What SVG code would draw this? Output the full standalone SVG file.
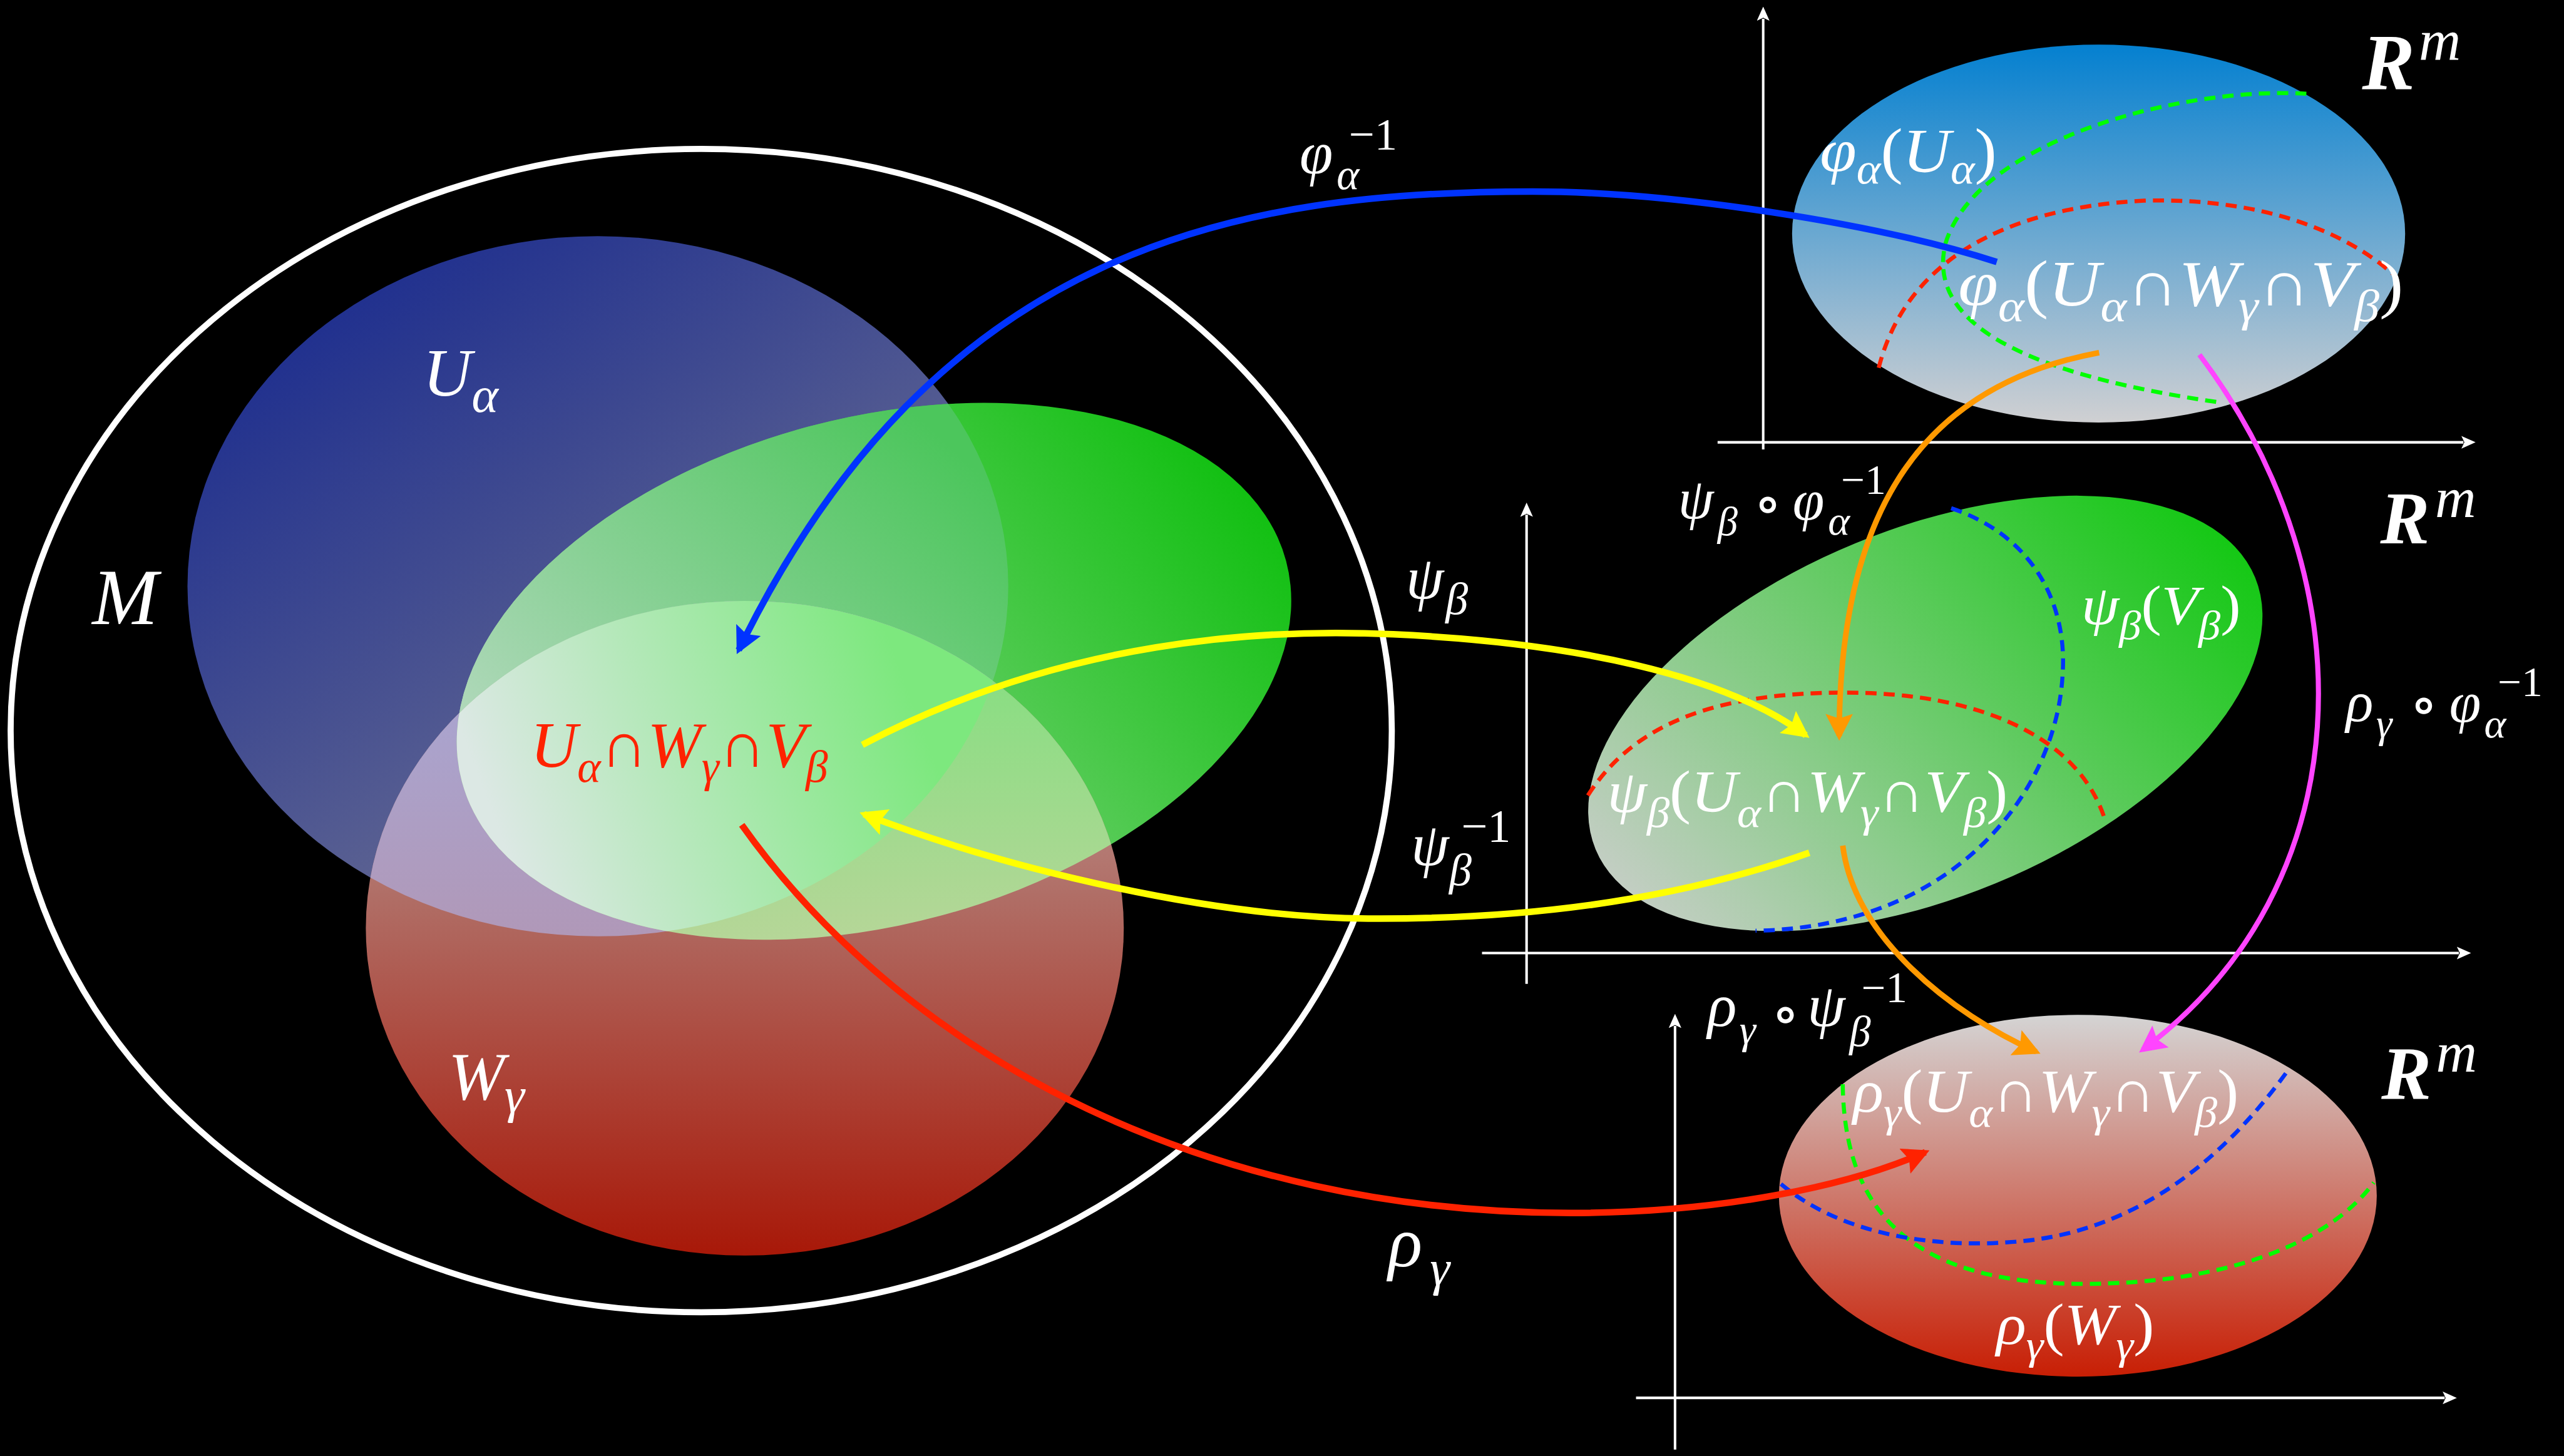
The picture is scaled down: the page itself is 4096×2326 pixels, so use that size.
<svg xmlns="http://www.w3.org/2000/svg" width="4096" height="2326" viewBox="0 0 4096 2326">
<style>
.t{font-family:"Liberation Serif","Times New Roman","DejaVu Serif",serif;font-style:italic;fill:#ffffff}
.up{font-style:normal}
.bd{font-weight:bold}
.ring{font-family:"DejaVu Sans","Noto Sans",sans-serif;font-style:normal;font-weight:bold;fill:#ffffff;text-anchor:middle}
.ax{stroke:#ffffff;stroke-width:5;fill:none;marker-end:url(#axh)}
.dash{fill:none;stroke-width:8;stroke-dasharray:22 14}
.arr{fill:none;stroke-linecap:butt}
</style>
<defs>
<marker id="axh" viewBox="0 0 28 25" markerWidth="28" markerHeight="25" refX="4" refY="12.5" orient="auto" markerUnits="userSpaceOnUse"><path d="M0,0 L28,12.5 L0,25 L6,12.5 z" fill="#ffffff"/></marker>
<marker id="hBlue" viewBox="0 0 53 56" markerWidth="53" markerHeight="56" refX="44" refY="28" orient="auto" markerUnits="userSpaceOnUse"><path d="M0,1 L53,28 L0,55 L9,28 z" fill="#0033ff"/></marker>
<marker id="hYel" viewBox="0 0 53 56" markerWidth="53" markerHeight="56" refX="44" refY="28" orient="auto" markerUnits="userSpaceOnUse"><path d="M0,1 L53,28 L0,55 L9,28 z" fill="#ffff00"/></marker>
<marker id="hRed" viewBox="0 0 53 56" markerWidth="53" markerHeight="56" refX="44" refY="28" orient="auto" markerUnits="userSpaceOnUse"><path d="M0,1 L53,28 L0,55 L9,28 z" fill="#ff2200"/></marker>
<marker id="hOr" viewBox="0 0 53 56" markerWidth="53" markerHeight="56" refX="44" refY="28" orient="auto" markerUnits="userSpaceOnUse"><path d="M0,1 L53,28 L0,55 L9,28 z" fill="#ff9900"/></marker>
<marker id="hMag" viewBox="0 0 53 56" markerWidth="53" markerHeight="56" refX="44" refY="28" orient="auto" markerUnits="userSpaceOnUse"><path d="M0,1 L53,28 L0,55 L9,28 z" fill="#ff44ff"/></marker>
<linearGradient id="gB" gradientUnits="userSpaceOnUse" x1="600" y1="500" x2="1500" y2="1780"><stop offset="0" stop-color="#192a8e"/><stop offset="1" stop-color="#767893"/></linearGradient>
<linearGradient id="gG" gradientUnits="userSpaceOnUse" x1="1000" y1="1700" x2="2450" y2="1000"><stop offset="0" stop-color="#b4dab4"/><stop offset="1" stop-color="#12c012"/></linearGradient>
<linearGradient id="gBG" gradientUnits="userSpaceOnUse" x1="950" y1="1400" x2="1900" y2="800"><stop offset="0" stop-color="#b7d9c1"/><stop offset="1" stop-color="#4cc65c"/></linearGradient>
<linearGradient id="gR" gradientUnits="userSpaceOnUse" x1="0" y1="1186" x2="0" y2="2478"><stop offset="0" stop-color="#c8b4b4"/><stop offset="0.45" stop-color="#b06e66"/><stop offset="1" stop-color="#a81808"/></linearGradient>
<linearGradient id="gBR" gradientUnits="userSpaceOnUse" x1="0" y1="1250" x2="0" y2="1850"><stop offset="0" stop-color="#a8a8d6"/><stop offset="1" stop-color="#b098b8"/></linearGradient>
<linearGradient id="gGR" gradientUnits="userSpaceOnUse" x1="0" y1="1190" x2="0" y2="1860"><stop offset="0" stop-color="#7ce07c"/><stop offset="1" stop-color="#b6d698"/></linearGradient>
<linearGradient id="gBGR" gradientUnits="userSpaceOnUse" x1="950" y1="1550" x2="1750" y2="1250"><stop offset="0" stop-color="#dce8e4"/><stop offset="1" stop-color="#7de87e"/></linearGradient>
<linearGradient id="gT" gradientUnits="userSpaceOnUse" x1="0" y1="88" x2="0" y2="835"><stop offset="0" stop-color="#0480d0"/><stop offset="1" stop-color="#d0d0d2"/></linearGradient>
<linearGradient id="gM" gradientUnits="userSpaceOnUse" x1="3149" y1="1676" x2="4451" y2="1140"><stop offset="0" stop-color="#c8cec8"/><stop offset="1" stop-color="#10c810"/></linearGradient>
<linearGradient id="gL" gradientUnits="userSpaceOnUse" x1="0" y1="2003" x2="0" y2="2718"><stop offset="0" stop-color="#d4d4d4"/><stop offset="1" stop-color="#c81e04"/></linearGradient>
<clipPath id="cB"><ellipse cx="1180" cy="1157" rx="810" ry="691"/></clipPath>
<clipPath id="cG"><ellipse cx="1725" cy="1325" rx="842" ry="500" transform="rotate(-15 1725 1325)"/></clipPath>
</defs>
<rect x="0" y="0" width="4096" height="2326" fill="#000000"/>
<g transform="scale(0.8094)">
<g id="manifold">
  <g id="U-alpha"><ellipse cx="1180" cy="1157" rx="810" ry="691" fill="url(#gB)"/></g>
  <g id="V-beta">
    <ellipse cx="1725" cy="1325" rx="842" ry="500" transform="rotate(-15 1725 1325)" fill="url(#gG)"/>
    <g clip-path="url(#cB)"><ellipse cx="1725" cy="1325" rx="842" ry="500" transform="rotate(-15 1725 1325)" fill="url(#gBG)"/></g>
  </g>
  <g id="W-gamma">
    <ellipse cx="1470" cy="1832" rx="748" ry="646" fill="url(#gR)"/>
    <g clip-path="url(#cB)"><ellipse cx="1470" cy="1832" rx="748" ry="646" fill="url(#gBR)"/></g>
    <g clip-path="url(#cG)"><ellipse cx="1470" cy="1832" rx="748" ry="646" fill="url(#gGR)"/></g>
    <g clip-path="url(#cB)"><g clip-path="url(#cG)"><ellipse cx="1470" cy="1832" rx="748" ry="646" fill="url(#gBGR)"/></g></g>
  </g>
  <g id="M"><ellipse cx="1384" cy="1442" rx="1363" ry="1148" fill="none" stroke="#ffffff" stroke-width="12"/></g>
</g>
<g id="chart-top">
  <path class="ax" d="M3480,887 L3480,37"/>
  <path class="ax" d="M3390,873 L4862,873"/>
  <ellipse cx="4142" cy="461" rx="605" ry="373" fill="url(#gT)"/>
  <path class="dash" stroke="#00ff00" d="M4552,185 C4300,170 3900,280 3840,480 C3800,640 4000,740 4386,795"/>
  <path class="dash" stroke="#ff2200" d="M3708,726 C3760,520 3950,410 4232,396 C4450,390 4620,450 4722,540"/>
</g>
<g id="chart-middle">
  <path class="ax" d="M3013,1942 L3013,1016"/>
  <path class="ax" d="M2925,1881 L4853,1881"/>
  <ellipse cx="3800" cy="1408" rx="704" ry="363" transform="rotate(-22.4 3800 1408)" fill="url(#gM)"/>
  <path class="dash" stroke="#0033ff" d="M3851,1003 C4020,1060 4080,1200 4071,1330 C4060,1560 3860,1830 3465,1837"/>
  <path class="dash" stroke="#ff2200" d="M3134,1570 C3230,1420 3400,1367 3644,1367 C3900,1367 4100,1450 4154,1616"/>
</g>
<g id="chart-bottom">
  <path class="ax" d="M3306,2861 L3306,2025"/>
  <path class="ax" d="M3229,2759 L4825,2759"/>
  <ellipse cx="4101" cy="2360" rx="590" ry="357" fill="url(#gL)"/>
  <path class="dash" stroke="#00ff00" d="M3637,2140 C3640,2380 3760,2534 4112,2534 C4400,2534 4600,2450 4685,2334"/>
  <path class="dash" stroke="#0033ff" d="M3515,2337 C3650,2450 3850,2460 3960,2452 C4200,2440 4380,2300 4514,2115"/>
</g>
<g id="connectors">
  <path class="arr" stroke="#0033ff" stroke-width="13" marker-end="url(#hBlue)" d="M3941,517 C3700,440 3300,378 3025,378 C2450,378 1850,480 1458,1283"/>
  <path class="arr" stroke="#ffff00" stroke-width="13" marker-end="url(#hYel)" d="M1702,1470 C2100,1260 2500,1240 2750,1252 C3100,1268 3400,1330 3564,1451"/>
  <path class="arr" stroke="#ffff00" stroke-width="13" marker-end="url(#hYel)" d="M3571,1683 C3300,1780 3000,1815 2700,1813 C2400,1811 2000,1720 1705,1607"/>
  <path class="arr" stroke="#ff2200" stroke-width="13" marker-end="url(#hRed)" d="M1464,1628 C1800,2100 2400,2394 3100,2394 C3400,2394 3650,2340 3800,2274"/>
  <path class="arr" stroke="#ff9900" stroke-width="11" marker-end="url(#hOr)" d="M4143,696 C3800,760 3630,1000 3630,1453"/>
  <path class="arr" stroke="#ff9900" stroke-width="11" marker-end="url(#hOr)" d="M3637,1669 C3660,1850 3850,2000 4019,2076"/>
  <path class="arr" stroke="#ff44ff" stroke-width="10" marker-end="url(#hMag)" d="M4341,700 C4680,1150 4660,1750 4229,2072"/>
</g>
<g id="labels">
  <text class="t" x="182" y="1232" font-size="156">M</text>
  <text class="t" x="835" y="781" font-size="133">U<tspan font-size="100" dy="32">α</tspan></text>
  <text class="t" x="885" y="2170" font-size="133">W<tspan font-size="100" dy="26">γ</tspan></text>
  <text class="t" x="1047" y="1513" font-size="128" style="fill:#ff2200">U<tspan font-size="88" dy="30">α</tspan><tspan class="up" dy="-30">∩</tspan>W<tspan font-size="88" dy="30">γ</tspan><tspan class="up" dy="-30">∩</tspan>V<tspan font-size="88" dy="30">β</tspan></text>
  <text class="t" font-size="119"><tspan x="2565" y="342">φ</tspan><tspan x="2638" y="373" font-size="85">α</tspan><tspan class="up" x="2662" y="295" font-size="90">−1</tspan></text>
  <text class="t" font-size="120"><tspan x="2775" y="1181">ψ</tspan><tspan x="2853" y="1212" font-size="89">β</tspan></text>
  <text class="t" font-size="120"><tspan x="2785" y="1707">ψ</tspan><tspan x="2860" y="1747" font-size="89">β</tspan><tspan class="up" x="2884" y="1662" font-size="92">−1</tspan></text>
  <text class="t" font-size="140"><tspan x="2740" y="2499">ρ</tspan><tspan x="2822" y="2536" font-size="100">γ</tspan></text>
  <text class="t" transform="translate(3592,339) scale(1.07,1)" font-size="122">φ<tspan font-size="85" dy="23">α</tspan><tspan class="up" dy="-23">(</tspan>U<tspan font-size="85" dy="23">α</tspan><tspan class="up" dy="-23">)</tspan></text>
  <text class="t" transform="translate(3865,603) scale(1.12,1)" font-size="127">φ<tspan font-size="88" dy="31">α</tspan><tspan class="up" dy="-31">(</tspan>U<tspan font-size="88" dy="31">α</tspan><tspan class="up" dy="-31">∩</tspan>W<tspan font-size="88" dy="31">γ</tspan><tspan class="up" dy="-31">∩</tspan>V<tspan font-size="88" dy="31">β</tspan><tspan class="up" dy="-31">)</tspan></text>
  <text class="t"><tspan class="bd" x="4662" y="175" font-size="156">R</tspan><tspan x="4774" y="118" font-size="115">m</tspan></text>
  <text class="t" font-size="113"><tspan x="3312" y="1023">ψ</tspan><tspan x="3390" y="1056" font-size="80">β</tspan></text>
  <text class="ring" x="3489" y="1028" font-size="100">∘</text>
  <text class="t" font-size="113"><tspan x="3538" y="1025">φ</tspan><tspan x="3608" y="1055" font-size="82">α</tspan><tspan class="up" x="3634" y="975" font-size="83">−1</tspan></text>
  <text class="t" transform="translate(4108,1232) scale(1.09,1)" font-size="110">ψ<tspan font-size="80" dy="30">β</tspan><tspan class="up" dy="-30">(</tspan>V<tspan font-size="80" dy="30">β</tspan><tspan class="up" dy="-30">)</tspan></text>
  <text class="t" transform="translate(3172,1602) scale(1.07,1)" font-size="118">ψ<tspan font-size="84" dy="30">β</tspan><tspan class="up" dy="-30">(</tspan>U<tspan font-size="84" dy="30">α</tspan><tspan class="up" dy="-30">∩</tspan>W<tspan font-size="84" dy="30">γ</tspan><tspan class="up" dy="-30">∩</tspan>V<tspan font-size="84" dy="30">β</tspan><tspan class="up" dy="-30">)</tspan></text>
  <text class="t"><tspan class="bd" x="4698" y="1073" font-size="146">R</tspan><tspan x="4806" y="1020" font-size="112">m</tspan></text>
  <text class="t" font-size="113"><tspan x="4630" y="1423">ρ</tspan><tspan x="4690" y="1455" font-size="80">γ</tspan></text>
  <text class="ring" x="4784" y="1424" font-size="100">∘</text>
  <text class="t" font-size="113"><tspan x="4834" y="1425">φ</tspan><tspan x="4903" y="1455" font-size="82">α</tspan><tspan class="up" x="4930" y="1374" font-size="83">−1</tspan></text>
  <text class="t" font-size="120"><tspan x="3370" y="2025">ρ</tspan><tspan x="3433" y="2060" font-size="82">γ</tspan></text>
  <text class="ring" x="3524" y="2035" font-size="100">∘</text>
  <text class="t" font-size="120"><tspan x="3567" y="2025">ψ</tspan><tspan x="3650" y="2064" font-size="85">β</tspan><tspan class="up" x="3674" y="1978" font-size="85">−1</tspan></text>
  <text class="t" transform="translate(3657,2194) scale(1.06,1)" font-size="119">ρ<tspan font-size="84" dy="30">γ</tspan><tspan class="up" dy="-30">(</tspan>U<tspan font-size="84" dy="30">α</tspan><tspan class="up" dy="-30">∩</tspan>W<tspan font-size="84" dy="30">γ</tspan><tspan class="up" dy="-30">∩</tspan>V<tspan font-size="84" dy="30">β</tspan><tspan class="up" dy="-30">)</tspan></text>
  <text class="t"><tspan class="bd" x="4700" y="2169" font-size="148">R</tspan><tspan x="4808" y="2115" font-size="112">m</tspan></text>
  <text class="t" transform="translate(3940,2652) scale(1.06,1)" font-size="116">ρ<tspan font-size="82" dy="30">γ</tspan><tspan class="up" dy="-30">(</tspan>W<tspan font-size="82" dy="30">γ</tspan><tspan class="up" dy="-30">)</tspan></text>
</g>
</g>
</svg>
